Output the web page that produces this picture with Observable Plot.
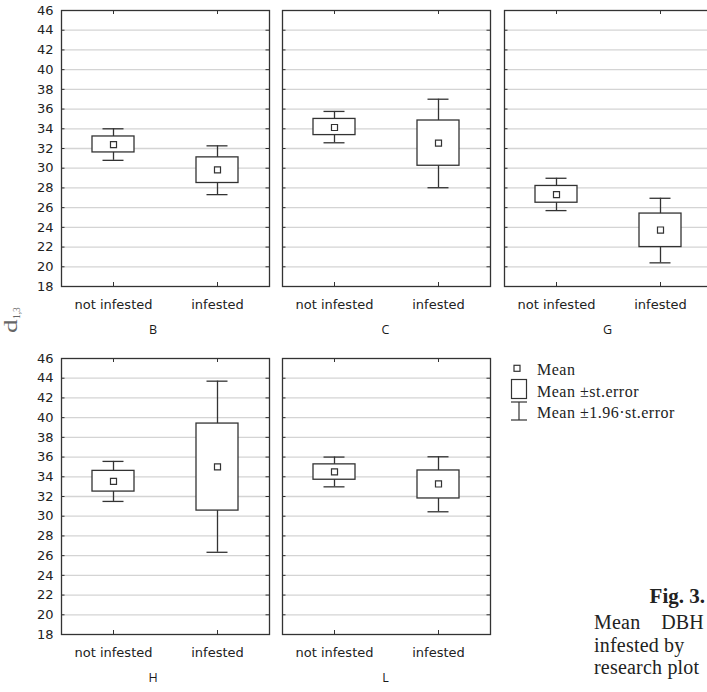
<!DOCTYPE html>
<html>
<head>
<meta charset="utf-8">
<script src="https://cdn.jsdelivr.net/npm/d3@7"></script>
<script src="https://cdn.jsdelivr.net/npm/@observablehq/plot@0.6"></script>
<style>
html, body { margin: 0; padding: 0; background: #fff; width: 707px; height: 692px; overflow: hidden; }
#root { position: relative; width: 707px; height: 692px; overflow: hidden; }
.panel { position: absolute; }
.panel svg { max-width: none !important; }
#overlay { position: absolute; left: 0; top: 0; }
</style>
</head>
<body>
<div id="root"></div>
<script>
// ---------- data ----------
const plotNames = ["B", "C", "G", "H", "L"];
const groups = ["not infested", "infested"];
const rowPlot  = ["B", "B", "C", "C", "G", "G", "H", "H", "L", "L"];
const rowGroup = ["not infested", "infested", "not infested", "infested", "not infested", "infested",
                  "not infested", "infested", "not infested", "infested"];
const meanVals = [32.40, 29.83, 34.13, 32.55, 27.32, 23.73, 33.53, 35.00, 34.50, 33.27];
const seLow    = [31.60, 28.50, 33.36, 30.25, 26.50, 22.00, 32.50, 30.57, 33.70, 31.80];
const seHigh   = [33.22, 31.10, 35.00, 34.84, 28.20, 25.40, 34.60, 39.40, 35.26, 34.64];
const ciLow    = [30.80, 27.32, 32.58, 28.02, 25.70, 20.40, 31.50, 26.34, 32.98, 30.45];
const ciHigh   = [34.00, 32.27, 35.76, 37.00, 28.98, 26.95, 35.56, 43.70, 36.00, 36.03];
const yTickValues = [18, 20, 22, 24, 26, 28, 30, 32, 34, 36, 38, 40, 42, 44, 46];
const gridValues  = [20, 22, 24, 26, 28, 30, 32, 34, 36, 38, 40, 42, 44];
const yDomain = [18, 46];
const yLabelMain = "d";
const yLabelSub = "1,3";
const legendLabels = ["Mean", "Mean ±st.error", "Mean ±1.96·st.error"];
const captionTitle = "Fig. 3.";
const captionLines = ["Mean DBH", "infested by", "research plot"];

const rows = rowPlot.map((p, i) => ({
  plot: p, group: rowGroup[i], mean: meanVals[i],
  seLow: seLow[i], seHigh: seHigh[i], ciLow: ciLow[i], ciHigh: ciHigh[i]
}));

// ---------- layout ----------
const FW = 208, FH = 276;
const colX = [61, 282, 504];
const rowY = [10, 358];
const layout = {B: [0, 0], C: [1, 0], G: [2, 0], H: [0, 1], L: [1, 1]};
const ink = "#333";
const root = document.getElementById("root");

for (const name of plotNames) {
  const [col, row] = layout[name];
  const data = rows.filter(d => d.plot === name);
  const mL = col === 0 ? 61 : 6, mR = 6, mT = 10, mB = 60;
  const W = FW + mL + mR, H = FH + mT + mB;
  const chart = Plot.plot({
    width: W,
    height: H,
    marginLeft: mL, marginRight: mR, marginTop: mT, marginBottom: mB,
    x: {type: "band", domain: groups, padding: 0, label: null},
    y: {domain: yDomain, label: null, axis: col === 0 ? undefined : null},
    style: {fontFamily: "DejaVu Sans", fontSize: "13px", color: "#222", background: "transparent", overflow: "visible", maxWidth: "none"},
    marks: [
      Plot.ruleY(gridValues, {stroke: "#d4d4d4", strokeWidth: 1.3}),
      Plot.tickY(yTickValues, {y: d => d, insetRight: FW - 3.5, stroke: ink}),
      Plot.tickY(yTickValues, {y: d => d, insetLeft: FW - 3.5, stroke: ink}),
      Plot.tickX(groups, {x: d => d, insetBottom: FH - 4, stroke: ink}),
      Plot.tickX(groups, {x: d => d, insetTop: FH - 4, stroke: ink}),
      Plot.ruleX(data, {x: "group", y1: "ciLow", y2: "ciHigh", stroke: ink, strokeWidth: 1.3}),
      Plot.tickY(data, {x: "group", y: "ciLow", insetLeft: 41.5, insetRight: 41.5, stroke: ink, strokeWidth: 1.3}),
      Plot.tickY(data, {x: "group", y: "ciHigh", insetLeft: 41.5, insetRight: 41.5, stroke: ink, strokeWidth: 1.3}),
      Plot.barY(data, {x: "group", y1: "seLow", y2: "seHigh", fill: "white", stroke: ink, strokeWidth: 1.3, insetLeft: 31, insetRight: 31}),
      Plot.dot(data, {x: "group", y: "mean", symbol: "square", r: 3.4, fill: "white", stroke: ink, strokeWidth: 1.2}),
      Plot.frame({stroke: ink, strokeWidth: 1.3}),
      Plot.axisX({tickSize: 0, tickPadding: 13, label: null}),
      col === 0 ? Plot.axisY({ticks: yTickValues, tickSize: 0, tickPadding: 8, label: null}) : null,
      Plot.text([name], {text: d => d, frameAnchor: "bottom", dy: 47.5, dx: col === 0 ? -12.5 : -1,
                         fontFamily: "Open Sans", fontSize: 12.5, fill: "#1a1a1a"})
    ]
  });
  chart.style.maxWidth = "none";
  chart.style.width = W + "px";
  chart.style.height = H + "px";
  const wrap = document.createElement("div");
  wrap.className = "panel";
  wrap.style.left = (colX[col] - mL) + "px";
  wrap.style.top = (rowY[row] - mT) + "px";
  wrap.style.width = W + "px";
  wrap.style.height = H + "px";
  wrap.appendChild(chart);
  root.appendChild(wrap);
}

// ---------- overlay: y label, legend, caption ----------
const ns = "http://www.w3.org/2000/svg";
const ov = document.createElementNS(ns, "svg");
ov.setAttribute("id", "overlay");
ov.setAttribute("width", 707);
ov.setAttribute("height", 692);
root.appendChild(ov);
function el(tag, attrs, text) {
  const e = document.createElementNS(ns, tag);
  for (const k in attrs) e.setAttribute(k, attrs[k]);
  if (text != null) e.textContent = text;
  ov.appendChild(e);
  return e;
}
// y label
el("text", {transform: "translate(17,333) rotate(-90) scale(1.5,1)", "font-family": "Liberation Serif", "font-size": 18, fill: "#666"}, yLabelMain);
el("text", {transform: "translate(20,319) rotate(-90)", "font-family": "Liberation Serif", "font-size": 9.5, fill: "#666"}, yLabelSub);

// legend
const lx = 500, ly = 355;
el("rect", {x: lx + 14, y: ly + 10.3, width: 6, height: 6, fill: "none", stroke: ink, "stroke-width": 1.2});
el("rect", {x: lx + 11.5, y: ly + 24.5, width: 15, height: 19, fill: "none", stroke: ink, "stroke-width": 1.2});
el("line", {x1: lx + 11, x2: lx + 27, y1: ly + 47, y2: ly + 47, stroke: ink, "stroke-width": 1.2});
el("line", {x1: lx + 19, x2: lx + 19, y1: ly + 47, y2: ly + 65, stroke: ink, "stroke-width": 1.2});
el("line", {x1: lx + 11, x2: lx + 27, y1: ly + 65, y2: ly + 65, stroke: ink, "stroke-width": 1.2});
const legendBaselines = [20, 41.7, 63];
legendLabels.forEach((t, i) => {
  el("text", {x: lx + 37, y: ly + legendBaselines[i], "font-family": "Liberation Serif", "font-size": 16,
              "letter-spacing": "0.5", fill: "#222"}, t);
});

// caption
el("text", {x: 705, y: 603, "text-anchor": "end", "font-family": "Liberation Serif", "font-size": 21, "font-weight": "bold", fill: "#222"}, captionTitle);
const capBase = [629, 651.5, 674];
captionLines.forEach((t, i) => {
  const e = el("text", {x: 594, y: capBase[i], "font-family": "Liberation Serif", "font-size": 20,
                        "letter-spacing": "0.2", fill: "#222"}, t);
  if (i === 0) {
    const len = e.getComputedTextLength();
    const target = 704 - 594;
    if (len < target) e.setAttribute("word-spacing", (target - len).toFixed(2));
  }
});
</script>
</body>
</html>
